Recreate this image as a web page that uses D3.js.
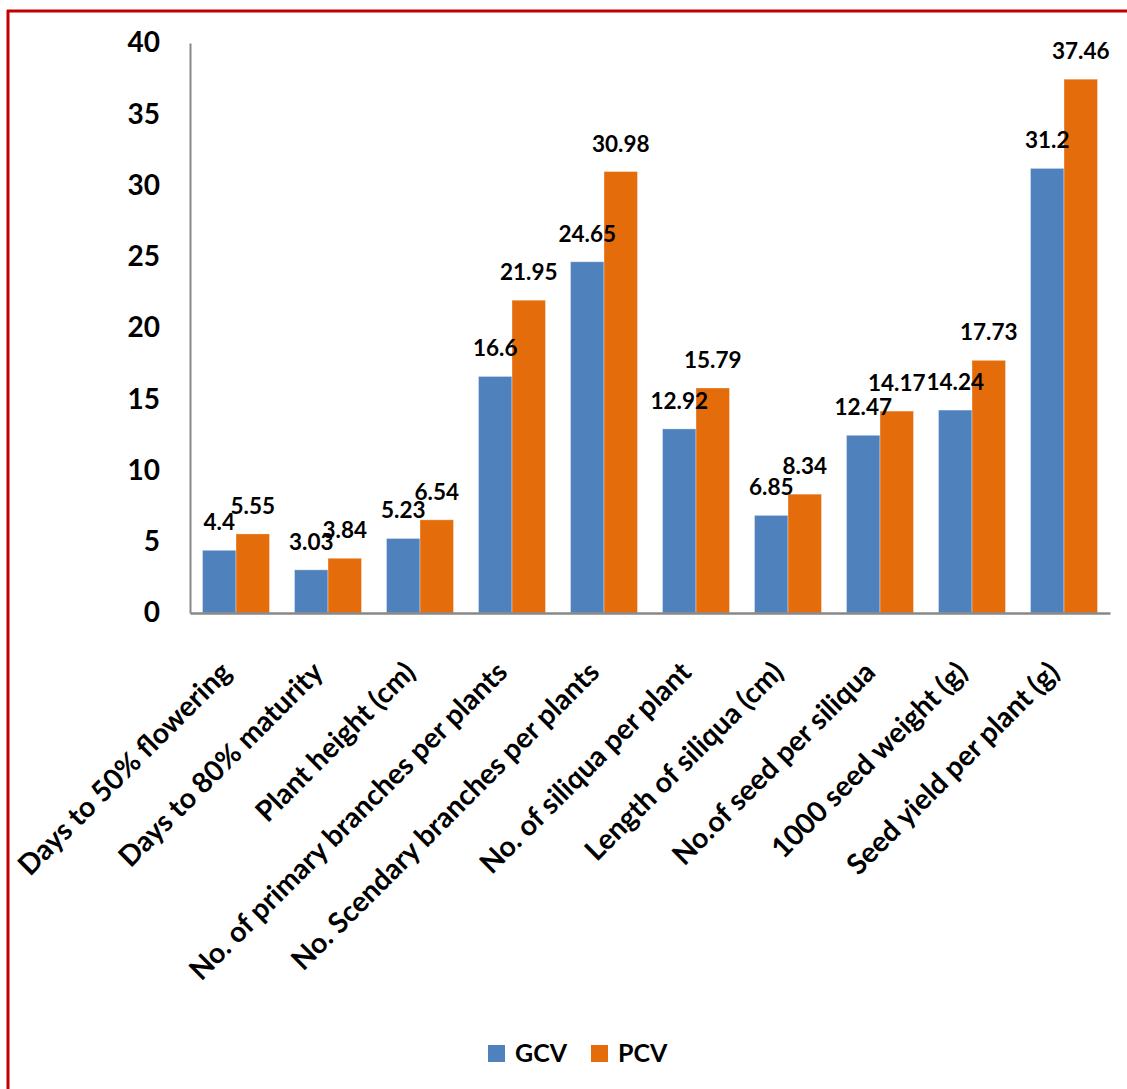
<!DOCTYPE html>
<html><head><meta charset="utf-8">
<script src="https://cdn.jsdelivr.net/npm/d3@7"></script>
<style>body{margin:0;background:#fff;}svg{display:block;}</style>
</head><body>
<script>
const categories = ["Days to 50% flowering","Days to 80% maturity","Plant height (cm)","No. of primary branches per plants","No. Scendary branches per plants","No. of siliqua per plant","Length of siliqua (cm)","No.of seed per siliqua","1000 seed weight (g)","Seed yield per plant (g)"];
const gcv = [4.4,3.03,5.23,16.6,24.65,12.92,6.85,12.47,14.24,31.2];
const pcv = [5.55,3.84,6.54,21.95,30.98,15.79,8.34,14.17,17.73,37.46];
const gcvLabels = ["4.4","3.03","5.23","16.6","24.65","12.92","6.85","12.47","14.24","31.2"];
const pcvLabels = ["5.55","3.84","6.54","21.95","30.98","15.79","8.34","14.17","17.73","37.46"];
const yTicks = [0,5,10,15,20,25,30,35,40];
const seriesNames = ["GCV","PCV"];
const colors = ["#4F81BD","#E46C0A"];

(function(){
const W=1127,H=1089;
const font="Lato, 'Open Sans', sans-serif";
const svg=d3.select("body").append("svg").attr("width",W).attr("height",H);
svg.append("rect").attr("width",W).attr("height",H).attr("fill","#fff");
svg.append("line").attr("x1",8).attr("x2",8).attr("y1",10).attr("y2",H).attr("stroke","#C00000").attr("stroke-width",3);
svg.append("line").attr("x1",7).attr("x2",W).attr("y1",11).attr("y2",11).attr("stroke","#C00000").attr("stroke-width",3);

const pl=190,pr=1110,pt=43,pb=613;
const x=d3.scaleBand().domain(categories).range([pl,pr]).paddingInner(0).paddingOuter(0);
const x1=d3.scaleBand().domain(seriesNames).range([0,x.bandwidth()]).paddingInner(0).paddingOuter(0.373);
const y=d3.scaleLinear().domain([0,40]).range([pb,pt]);

const data=categories.map((c,i)=>({c,vals:[{s:"GCV",v:gcv[i],l:gcvLabels[i]},{s:"PCV",v:pcv[i],l:pcvLabels[i]}]}));
const g=svg.append("g");
const grp=g.selectAll("g.grp").data(data).join("g").attr("transform",d=>`translate(${x(d.c)},0)`);
grp.selectAll("rect").data(d=>d.vals).join("rect")
  .attr("x",d=>x1(d.s)).attr("width",x1.bandwidth())
  .attr("y",d=>y(d.v)).attr("height",d=>y(0)-y(d.v))
  .attr("fill",(d,i)=>colors[i]).attr("stroke","#fff").attr("stroke-opacity",0.35).attr("stroke-width",1);
grp.selectAll("text").data(d=>d.vals).join("text")
  .attr("x",d=>x1(d.s)+x1.bandwidth()/2).attr("y",d=>y(d.v)-20)
  .attr("text-anchor","middle").attr("font-family",font).attr("font-weight","bold").attr("font-size",22.5)
  .attr("fill","#000").text(d=>d.l);

const yAxis=d3.axisLeft(y).tickValues(yTicks).tickSize(0).tickPadding(30).tickFormat(d3.format("d"));
const ya=svg.append("g").attr("transform",`translate(${pl},0)`).call(yAxis);
ya.select(".domain").attr("stroke","#888").attr("stroke-width",2);
ya.selectAll("text").attr("font-family",font).attr("font-weight","bold").attr("font-size",28).attr("fill","#000");

const xAxis=d3.axisBottom(x).tickSize(0).tickFormat(d=>d);
const xa=svg.append("g").attr("transform",`translate(0,${pb})`).call(xAxis);
xa.select(".domain").attr("stroke","#888").attr("stroke-width",2.5);
xa.selectAll(".tick text").attr("font-family",font).attr("font-weight","bold").attr("font-size",28.5).attr("fill","#000")
  .attr("text-anchor","end").attr("y",0).attr("dy",0)
  .attr("transform",`translate(-3,61) rotate(-45)`);

const leg=svg.append("g").attr("transform","translate(488,1045)");
const items=[{n:"GCV",x:0},{n:"PCV",x:103}];
items.forEach((it,i)=>{
  leg.append("rect").attr("x",it.x).attr("y",0).attr("width",17).attr("height",17).attr("fill",colors[i]);
  leg.append("text").attr("x",it.x+27).attr("y",17).attr("font-family",font).attr("font-weight","bold").attr("font-size",25).attr("fill","#000").text(it.n);
});
})();
</script>
</body></html>
